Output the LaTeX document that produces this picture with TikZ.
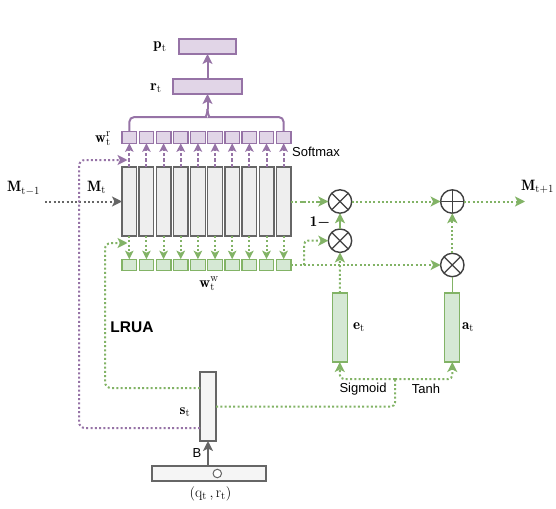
\documentclass[tikz,border=0pt]{standalone}
\usepackage{bm}
\usepackage{fontspec}
\newfontfamily\arialf{Liberation Sans}
\DeclareMathSizes{15}{15}{11}{8}
\usetikzlibrary{arrows.meta,calc}
\definecolor{purpd}{HTML}{9673A6}
\definecolor{purpf}{HTML}{E1D5E7}
\definecolor{grnd}{HTML}{82B366}
\definecolor{grnf}{HTML}{D5E8D4}
\definecolor{grayd}{HTML}{666666}
\definecolor{grayf}{HTML}{EEEEEE}
\definecolor{grayl}{HTML}{F5F5F5}
\begin{document}
\begin{tikzpicture}[x=1pt,y=-1pt,
  tip/.style={-{Stealth[length=10pt,width=10pt,inset=2.5pt]}},
  stip/.style={-{Stealth[length=8.5pt,width=8.5pt,inset=2pt]}},
  memcol/.style={draw=grayd, fill=grayf, line width=1.4pt, minimum width=14.6pt, minimum height=69pt, inner sep=0pt, outer sep=0pt},
  rbox/.style={draw=purpd, fill=purpf, line width=1.3pt, minimum width=14.6pt, minimum height=11.6pt, inner sep=0pt, outer sep=0pt},
  wbox/.style={draw=grnd, fill=grnf, line width=1.3pt, minimum width=14.6pt, minimum height=11.6pt, inner sep=0pt, outer sep=0pt},
  vecbox/.style={draw=grnd, fill=grnf, line width=1.3pt, minimum width=15pt, minimum height=69pt, inner sep=0pt, outer sep=0pt},
  gate/.style={circle, draw=black!75, fill=white, line width=1.4pt, minimum size=23.4pt, inner sep=0pt, outer sep=0pt},
  lab/.style={font=\fontsize{15}{17}\selectfont, inner sep=0pt},
  slab/.style={font=\arialf\fontsize{13}{15}\selectfont, inner sep=0pt},
  gdot/.style={draw=grnd, line width=2pt, dash pattern=on 2pt off 2.3pt},
  gsolid/.style={draw=grnd, line width=1.6pt},
  gdashdot/.style={draw=grnd, line width=2pt, dash pattern=on 2pt off 2.3pt on 2pt off 2.3pt on 6pt off 2.3pt},
  pdot/.style={draw=purpd, line width=2pt, dash pattern=on 2pt off 2.3pt},
  pdash/.style={draw=purpd, line width=2pt, dash pattern=on 3.5pt off 2pt},
  graydot/.style={draw=grayd, line width=2pt, dash pattern=on 2pt off 2.3pt},
  brace/.style={draw=purpd, line width=2pt, rounded corners=5pt}
]
\useasboundingbox (0,0) rectangle (556,508);

% memory, read and write vectors
\foreach \i in {0,...,9} {
  \pgfmathsetmacro\xc{129.3+17.15*\i}
  \node[memcol] (m\i) at (\xc,201.5) {};
  \node[rbox] (r\i) at (\xc,137.5) {};
  \node[wbox] (w\i) at (\xc,265) {};
}

% read output boxes
\node[rbox, minimum width=69pt, minimum height=15pt] (rt) at (207.5,86.5) {};
\node[rbox, minimum width=57pt, minimum height=15pt] (pt) at (207.5,46.5) {};

% gates
\node[gate] (g1) at (340,201.5) {};
\node[gate] (g2) at (340,240.7) {};
\node[gate] (gp) at (452.3,201.5) {};
\node[gate] (g3) at (452.3,265) {};
\foreach \g in {g1,g2,g3} {
  \draw[black!75, line width=1.2pt] (\g.north west) -- (\g.south east) (\g.north east) -- (\g.south west);
}
\draw[black!75, line width=1.2pt] (gp.north) -- (gp.south) (gp.west) -- (gp.east);

% erase / add vectors
\node[vecbox] (et) at (339.8,327.5) {};
\node[vecbox] (at) at (452.3,327.5) {};

% controller and input
\node[draw=grayd, fill=grayl, line width=1.3pt, minimum width=16pt, minimum height=69pt, inner sep=0pt, outer sep=0pt] (st) at (208,406.5) {};
\node[draw=grayd, fill=grayl, line width=1.3pt, minimum width=114pt, minimum height=15pt, inner sep=0pt, outer sep=0pt] (inp) at (209,473.5) {};
\node[circle, draw=grayd, fill=white, line width=1pt, minimum size=8.5pt, inner sep=0pt] (ic) at (217.3,473.5) {};

% labels
\node[lab, anchor=base west] (lmm) at (7,191.7) {$\mathbf{M}_{\mathrm{t-1}}$};
\node[lab, anchor=base west] (lm) at (87,191.7) {$\mathbf{M}_{\mathrm{t}}$};
\node[lab, anchor=base west] (lmp) at (521,190) {$\mathbf{M}_{\mathrm{t+1}}$};
\node[lab] (lpt) at (160,47) {$\mathbf{p}_{\mathrm{t}}$};
\node[lab] (lrt) at (156,88) {$\mathbf{r}_{\mathrm{t}}$};
\node[lab] (lwr) at (103,139) {$\mathbf{w}_{\mathrm{t}}^{\mathrm{r}}$};
\node[lab] (lww) at (209,284) {$\mathbf{w}_{\mathrm{t}}^{\mathrm{w}}$};
\node[lab] (let) at (359,327) {$\mathbf{e}_{\mathrm{t}}$};
\node[lab] (lat) at (468,327) {$\mathbf{a}_{\mathrm{t}}$};
\node[lab] (lst) at (185,412) {$\mathbf{s}_{\mathrm{t}}$};
\node[lab] (lone) at (320,223) {$\mathbf{1}\bm{-}$};
\node[lab] (lin) at (210.5,494) {$(\mathrm{q}_{\mathrm{t}}\,,\mathrm{r}_{\mathrm{t}})$};
\node[slab, anchor=west] (lsm) at (292,152) {Softmax};
\node[slab] (lsig) at (363,389) {Sigmoid};
\node[slab] (ltanh) at (426,389) {Tanh};
\node[slab] (lb) at (197,453) {B};
\node[inner sep=0pt, font=\arialf\bfseries\fontsize{15.5}{17}\selectfont] (llrua) at (132,327) {LRUA};

% column arrows
\foreach \i in {0,...,9} {
  \draw[pdash, stip] (m\i.north) -- (r\i.south);
  \draw[gdot, stip] (m\i.south) -- (w\i.north);
}

% brace and read path
\coordinate (btip) at (207.5,109);
\draw[brace] (r0.north) |- (201,117) .. controls (205,117) and (207.5,115) .. (btip);
\draw[brace] (r9.north) |- (214,117) .. controls (210,117) and (207.5,115) .. (btip);
\draw[draw=purpd, line width=2pt, tip] (btip) -- (rt.south);
\draw[draw=purpd, line width=2pt, tip] (rt.north) -- (pt.south);

% memory input
\coordinate (min) at (45,201.5);
\draw[graydot, tip] (min) -- (m0.west);

% controller to read / write heads
\coordinate (pend) at (127.5,160);
\draw[pdot, rounded corners=6pt, tip] ([yshift=-21.5pt]st.west) -| (79,160) -- (pend);
\coordinate (gend) at (127.5,243);
\draw[gdot, rounded corners=6pt, tip] ([yshift=18.5pt]st.west) -| (105,243) -- (gend);

% controller to erase / add
\coordinate (gj) at (395,379);
\draw[gdot, rounded corners=4pt] (st.east) -| (gj);
\draw[gdot, rounded corners=4pt, tip] (gj) -| (et.south);
\draw[gdot, rounded corners=4pt, tip] (gj) -| (at.south);

% input to controller
\draw[draw=grayd, line width=2pt, tip] (inp.north -| st.south) -- (st.south);

% memory update
\draw[gdashdot, tip] (m9.east) -- (g1.west);
\draw[gdot, tip] (g1.east) -- (gp.west);
\coordinate (mout) at (525,201.5);
\draw[gdot, tip] (gp.east) -- (mout);
\draw[gsolid, tip] (g2.north) -- (g1.south);
\draw[gdot, tip] (w9.east) -- (g3.west);
\coordinate (wb) at (304,265);
\draw[gdot, rounded corners=4pt, tip] (wb) |- (g2.west);
\draw[gdot, tip] (et.north) -- (g2.south);
\draw[gsolid] (at.north) -- (g3.south);
\draw[gdot, tip] (g3.north) -- (gp.south);
\end{tikzpicture}
\end{document}
